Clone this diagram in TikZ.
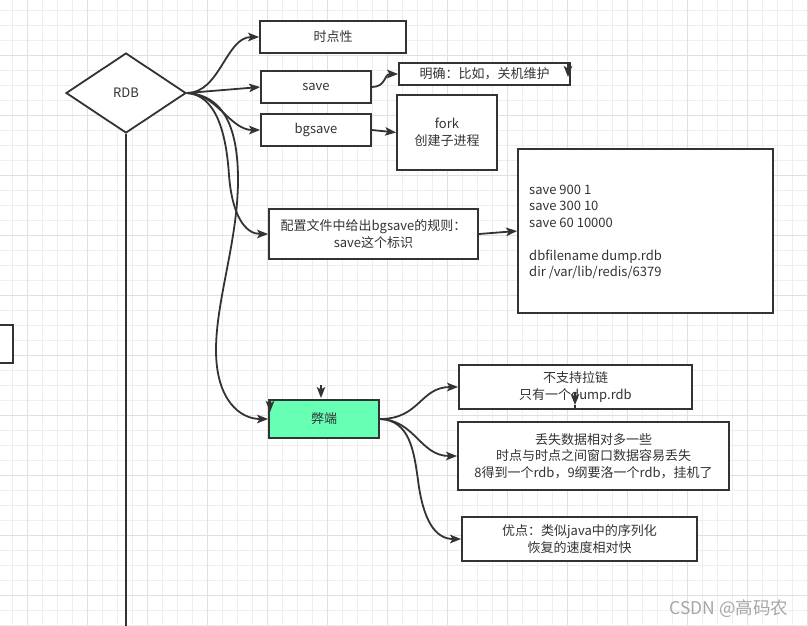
\documentclass[tikz,border=0pt]{standalone}
\usepackage{fontspec}
\setmainfont{Noto Sans CJK SC}
\usetikzlibrary{shapes.geometric,arrows.meta}
\definecolor{ink}{HTML}{333333}
\definecolor{gridlight}{HTML}{EEEEEE}
\definecolor{griddark}{HTML}{E0E0E0}
\definecolor{mint}{HTML}{66FFB3}
\definecolor{wm}{HTML}{A6A6A6}
\begin{document}
\begin{tikzpicture}[x=1pt,y=-1pt,
  font=\fontsize{13pt}{16.5pt}\selectfont,
  box/.style={draw=ink, line width=1.8pt, fill=white, text=ink, align=center, inner sep=0pt},
  conn/.style={draw=ink, line width=1.8pt, -{Stealth[length=11pt,width=8.5pt,inset=2.5pt]}},
  plainline/.style={draw=ink, line width=1.8pt},
  gl/.style={draw=gridlight, line width=0.9pt},
  gd/.style={draw=griddark, line width=0.9pt}]
\useasboundingbox (0,0) rectangle (808,625);
\clip (0,0) rectangle (808,625);
\fill[white] (0,0) rectangle (808,625);
% grid
\foreach \i in {0,...,53} {\draw[gl] ({12.7+15*\i},0) -- ({12.7+15*\i},625);}
\foreach \i in {0,...,41} {\draw[gl] (0,{10+15*\i}) -- (808,{10+15*\i});}
\foreach \i in {0,...,13} {\draw[gd] ({27.7+60*\i},0) -- ({27.7+60*\i},625);}
\foreach \i in {0,...,10} {\draw[gd] (0,{55+60*\i}) -- (808,{55+60*\i});}

% vertical line and diamond
\coordinate (vend) at (126,632);
\node[draw=ink, line width=1.8pt, fill=white, text=ink, diamond, inner sep=0pt,
      minimum width=120pt, minimum height=80pt] (rdb) at (126,93) {RDB};
\draw[plainline] (rdb.south) -- (vend);

% left partial box
\node[box, minimum width=24pt, minimum height=38pt] (lb) at (1,344) {};

% boxes
\node[box, minimum width=146pt, minimum height=32pt] (t1) at (333,37) {时点性};
\node[box, minimum width=110pt, minimum height=32pt] (sv) at (316,87) {save};
\node[box, minimum width=171pt, minimum height=22pt] (mq) at (484.5,74) {明确：比如，关机维护};
\node[box, minimum width=110pt, minimum height=32pt] (bg) at (316,130) {bgsave};
\node[box, minimum width=100pt, minimum height=75pt] (fk) at (447,132.5) {fork\\创建子进程};
\node[box, minimum width=209pt, minimum height=50pt] (pz) at (373.5,234) {配置文件中给出bgsave的规则：\\save这个标识};
\node[box, minimum width=255pt, minimum height=164pt] (cfg) at (645.5,231) {};
\node[text=ink, align=left, anchor=west, inner sep=0pt] (cfgt) at (529,232)
  {save 900 1\\save 300 10\\save 60 10000\\[16.5pt]dbfilename dump.rdb\\dir /var/lib/redis/6379};
\node[box, fill=mint, minimum width=110pt, minimum height=38pt] (bd) at (324,419) {弊端};
\node[box, minimum width=233pt, minimum height=44pt] (bz) at (575.5,387) {不支持拉链\\只有一个dump.rdb};
\node[box, minimum width=271pt, minimum height=68pt] (ds) at (593.5,456) {丢失数据相对多一些\\时点与时点之间窗口数据容易丢失\\8得到一个rdb，9纲要洛一个rdb，挂机了};
\node[box, minimum width=235pt, minimum height=44pt] (yd) at (579.5,539) {优点：类似java中的序列化\\恢复的速度相对快};

% connectors from RDB
\draw[conn] (rdb.east) .. controls (220,93) and (226,37) .. (t1.west);
\draw[conn] (rdb.east) -- (sv.west);
\draw[conn] (rdb.east) .. controls (216,93) and (230,130) .. (bg.west);
\draw[conn] (rdb.east) .. controls (215,95) and (226,130) .. (229,175) .. controls (232,215) and (245,234) .. (pz.west);
\draw[conn] (rdb.east) .. controls (225,95) and (238,130) .. (238,180) .. controls (238,240) and (216,300) .. (216,350) .. controls (216,400) and (240,419) .. (bd.west);

\draw[conn] (sv.east) .. controls (386,87) and (384,74) .. (mq.west);
\draw[conn] (bg.east) -- (fk.west);
\draw[conn] (pz.east) -- (cfg.west);

% connectors from 弊端
\draw[conn] (bd.east) .. controls (420,419) and (420,387) .. (bz.west);
\draw[conn] (bd.east) .. controls (415,420) and (420,456) .. (ds.west);
\draw[conn] (bd.east) .. controls (410,420) and (414,452) .. (418,480) .. controls (423,520) and (435,539) .. (yd.west);

% stray arrowheads
\coordinate (a1s) at (568,64); \coordinate (a1e) at (568,77);
\coordinate (a2s) at (321,385); \coordinate (a2e) at (321,398);
\coordinate (a3s) at (270,399); \coordinate (a3e) at (270,412);
\coordinate (a4s) at (575,392); \coordinate (a4e) at (575,405);
\coordinate (a4b) at (575,409);
\draw[conn] (a1s) -- (a1e);
\draw[conn] (a2s) -- (a2e);
\draw[conn] (a3s) -- (a3e);
\draw[plainline] (a4e) -- (a4b);
\draw[conn] (a4s) -- (a4e);

% watermark
\node[text=wm, inner sep=0pt, font=\fontsize{17.5pt}{20pt}\selectfont] (wmk) at (729,609) {CSDN @高码农};
\end{tikzpicture}
\end{document}
